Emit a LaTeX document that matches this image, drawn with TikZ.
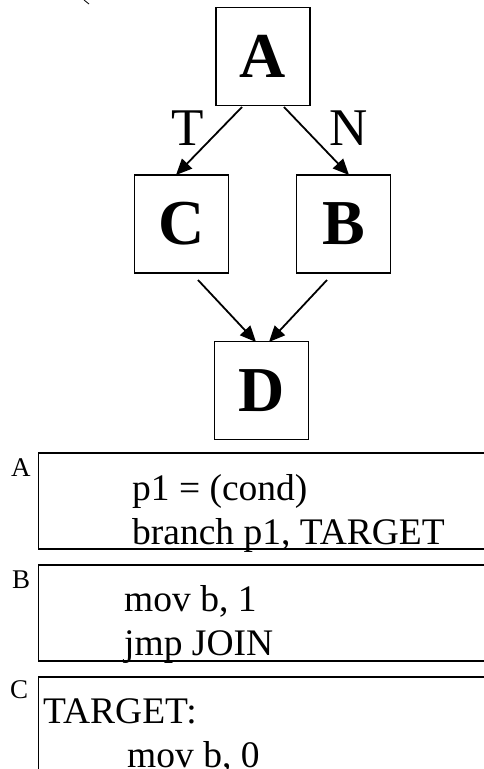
\documentclass[tikz,border=0pt]{standalone}
\usepackage{fontspec}
\setmainfont{Liberation Serif}
\usetikzlibrary{arrows.meta}
\begin{document}
\begin{tikzpicture}[x=1pt,y=-1pt,
  blk/.style={draw,line width=1.6pt,minimum width=94pt,minimum height=98pt,inner sep=0pt,font=\fontsize{64}{64}\selectfont\bfseries},
  arr/.style={line width=1.8pt,-{Triangle[length=16pt,width=14pt]},shorten >=0pt},
  codebox/.style={line width=1.8pt},
  code/.style={anchor=base west,inner sep=0pt,font=\fontsize{37.5}{37.5}\selectfont},
  tag/.style={anchor=base west,inner sep=0pt,font=\fontsize{27}{27}\selectfont},
  elab/.style={inner sep=0pt,font=\fontsize{53}{53}\selectfont}]
\useasboundingbox (0,0) rectangle (484,769);
\clip (0,0) rectangle (484,769);
\draw[line width=0.8pt] (84,0) -- (89,4);
\node[blk] (A) at (263,56.5) {A};
\node[blk] (C) at (181.5,224) {C};
\node[blk] (B) at (343.5,224) {B};
\node[blk] (D) at (261.5,390.5) {D};
\coordinate (a1) at (242,107);
\coordinate (a2) at (284,107);
\coordinate (c1) at (198,280);
\coordinate (b1) at (327,280);
\coordinate (ct) at (176,175);
\coordinate (bt) at (349,175);
\coordinate (d1) at (256,342);
\coordinate (d2) at (269,342);
\draw[arr] (a1) -- (ct);
\draw[arr] (a2) -- (bt);
\draw[arr] (c1) -- (d1);
\draw[arr] (b1) -- (d2);
\node[elab] (T) at (188,128) {T};
\node[elab] (N) at (349,128) {N};
% code boxes
\draw[codebox] (490,453) -- (38.5,453) -- (38.5,549) -- (490,549);
\draw[codebox] (490,565) -- (38.5,565) -- (38.5,661) -- (490,661);
\draw[codebox] (490,677) -- (38.5,677) -- (38.5,780);
\node[tag] (la) at (11,476) {A};
\node[tag] (lb) at (12,588) {B};
\node[tag] (lc) at (10,698) {C};
\node[code] (t1) at (132,500) {p1 = (cond)};
\node[code] (t2) at (132,544) {branch p1, TARGET};
\node[code] (t3) at (124,611) {mov b, 1};
\node[code] (t4) at (124,655) {jmp JOIN};
\node[code] (t5) at (43,723) {TARGET:};
\node[code] (t6) at (127,767) {mov b, 0};
\end{tikzpicture}
\end{document}
